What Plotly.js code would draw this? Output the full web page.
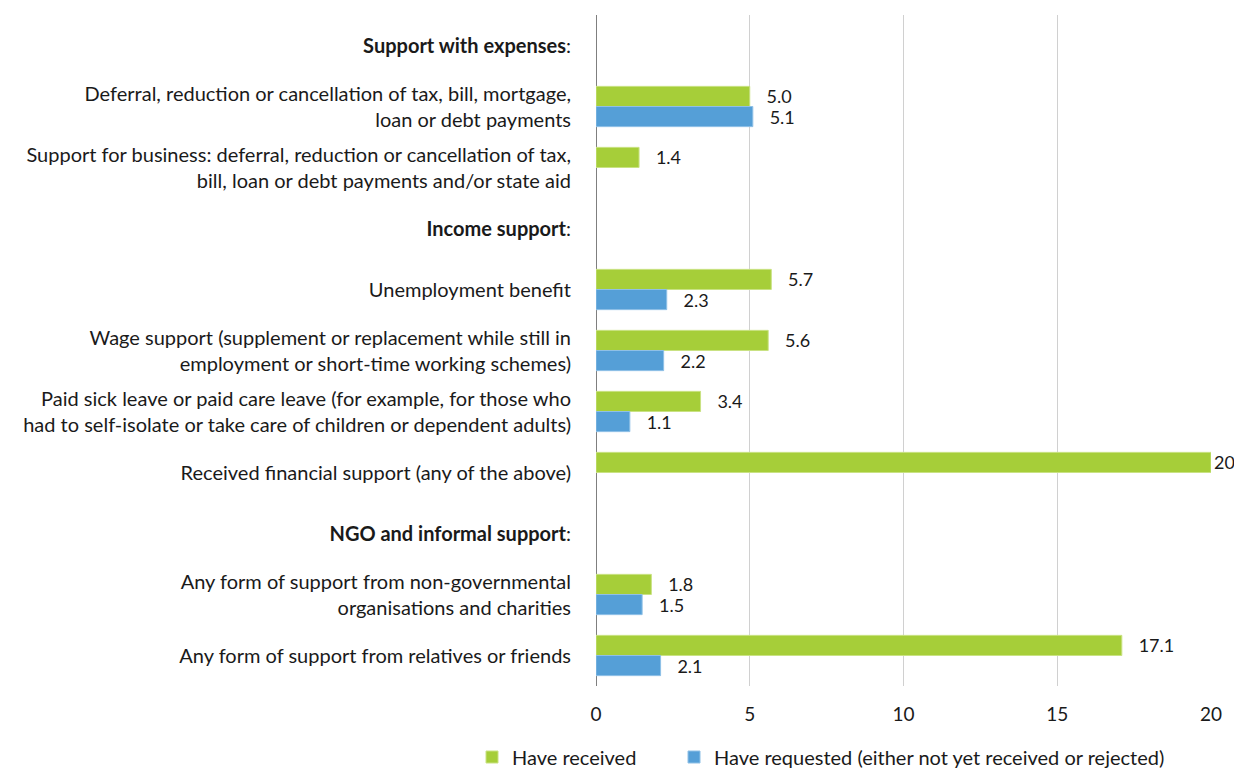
<!DOCTYPE html>
<html>
<head>
<meta charset="utf-8">
<script src="https://cdn.plot.ly/plotly-3.0.1.min.js"></script>
<style>html,body{margin:0;padding:0;background:#fff;}#chart{width:1234px;height:769px;}</style>
</head>
<body>
<div id="chart"></div>
<script>
const categories = [
  "<b>Support with expenses</b>:",
  "Deferral, reduction or cancellation of tax, bill, mortgage,<br>loan or debt payments",
  "Support for business: deferral, reduction or cancellation of tax,<br>bill, loan or debt payments and/or state aid",
  "<b>Income support</b>:",
  "Unemployment benefit",
  "Wage support (supplement or replacement while still in<br>employment or short-time working schemes)",
  "Paid sick leave or paid care leave (for example, for those who<br>had to self-isolate or take care of children or dependent adults)",
  "Received financial support (any of the above)",
  "<b>NGO and informal support</b>:",
  "Any form of support from non-governmental<br>organisations and charities",
  "Any form of support from relatives or friends"
];
const received = [null, 5.0, 1.4, null, 5.7, 5.6, 3.4, 20, null, 1.8, 17.1];
const requested = [null, 5.1, null, null, 2.3, 2.2, 1.1, null, null, 1.5, 2.1];
const receivedLabels = ["", "5.0", "1.4", "", "5.7", "5.6", "3.4", "20", "", "1.8", "17.1"];
const requestedLabels = ["", "5.1", "", "", "2.3", "2.2", "1.1", "", "", "1.5", "2.1"];
const seriesNames = ["Have received", "Have requested (either not yet received or rejected)"];
const xTicks = [0, 5, 10, 15, 20];

const FONT = "Lato, 'Noto Sans', sans-serif";
const pad = s => s === "" ? "" : (s === "20" ? s : "\u00a0\u00a0\u00a0" + s);

const traces = [
  {
    type: "bar", orientation: "h", name: seriesNames[0], legend: "legend",
    y: categories, x: received,
    marker: {color: "#a6ce39", line: {color: "#c9e283", width: 1}},
    text: receivedLabels.map(pad), textposition: "outside", cliponaxis: false,
    constraintext: "none",
    textfont: {family: FONT, size: 18, color: "#1a1a1a"},
    hoverinfo: "x"
  },
  {
    type: "bar", orientation: "h", name: seriesNames[1], legend: "legend2",
    y: categories, x: requested,
    marker: {color: "#559fd7", line: {color: "#8fc0e6", width: 1}},
    text: requestedLabels.map(pad), textposition: "outside", cliponaxis: false,
    constraintext: "none",
    textfont: {family: FONT, size: 18, color: "#1a1a1a"},
    hoverinfo: "x"
  }
];

const legendBase = {
  orientation: "h", xref: "container", yref: "container",
  xanchor: "left", y: 0.0156, yanchor: "middle",
  font: {family: FONT, size: 20, color: "#1a1a1a"}
};

const layout = {
  width: 1234, height: 769,
  margin: {l: 596, r: 23, t: 15, b: 83},
  paper_bgcolor: "#fff", plot_bgcolor: "#fff",
  font: {family: FONT, size: 20, color: "#1a1a1a"},
  barmode: "group", bargap: 0.34, bargroupgap: 0,
  showlegend: true,
  legend: Object.assign({}, legendBase, {x: 0.3825}),
  legend2: Object.assign({}, legendBase, {x: 0.5462}),
  xaxis: {
    range: [0, 20], tickvals: xTicks, ticktext: xTicks.map(String),
    showgrid: true, gridcolor: "#d0d0d0", gridwidth: 1,
    zeroline: true, zerolinecolor: "#7f7f7f", zerolinewidth: 1,
    showline: false, ticks: "", ticklabelstandoff: 15,
    tickfont: {family: FONT, size: 19, color: "#1a1a1a"},
    fixedrange: true
  },
  yaxis: {
    autorange: "reversed", type: "category",
    showgrid: false, zeroline: false, showline: false, ticks: "",
    ticklabelstandoff: 24,
    tickfont: {family: FONT, size: 20, color: "#1a1a1a"},
    fixedrange: true
  }
};

Plotly.newPlot("chart", traces, layout, {displayModeBar: false, staticPlot: true});
</script>
</body>
</html>
